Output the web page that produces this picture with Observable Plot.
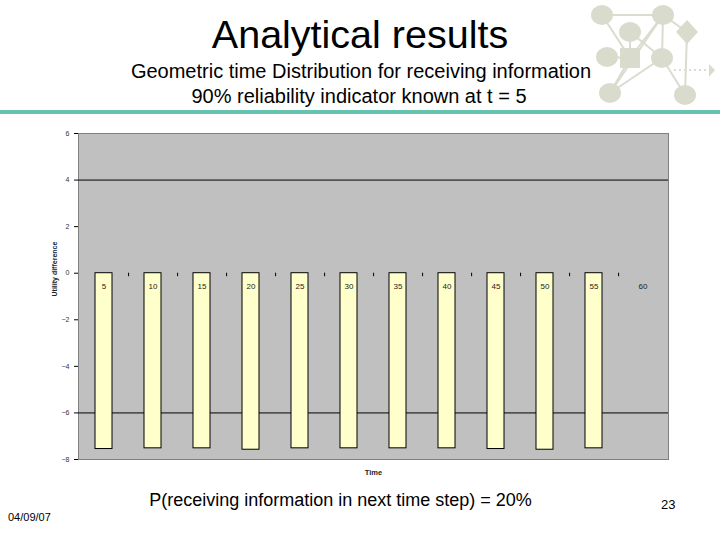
<!DOCTYPE html>
<html>
<head>
<meta charset="utf-8">
<script src="https://cdn.jsdelivr.net/npm/d3@7"></script>
<script src="https://cdn.jsdelivr.net/npm/@observablehq/plot@0.6"></script>
<style>
  html, body { margin: 0; padding: 0; background: #fff; }
  #page { position: relative; width: 720px; height: 540px; overflow: hidden; font-family: "Liberation Sans", Arial, sans-serif; }
  .abs { position: absolute; white-space: nowrap; }
  #title { left: 0; width: 720px; top: 12px; text-align: center; font-size: 39.5px; color: #000; }
  #sub1 { left: 0; width: 722px; top: 60px; text-align: center; font-size: 20px; }
  #sub2 { left: 0; width: 718px; top: 85px; text-align: center; font-size: 20px; }
  #rule { left: 0; top: 110px; width: 720px; height: 4px; background: #66c3b1; }
  #chart { left: 0; top: 115px; }
  #caption { left: 0; width: 681px; top: 490px; text-align: center; font-size: 18px; }
  #date { left: 8px; top: 511px; font-size: 11px; }
  #pagenum { left: 661px; top: 497px; font-size: 13px; }
  #logo { left: 585px; top: 0px; }
</style>
</head>
<body>
<div id="page">
  <svg id="logo" class="abs" width="135" height="110" viewBox="585 0 135 110">
    <g stroke="#dadccf" stroke-width="2" fill="none">
      <line x1="602" y1="15" x2="663" y2="15"/>
      <line x1="602" y1="15" x2="630" y2="58"/>
      <line x1="630" y1="32" x2="630" y2="58"/>
      <line x1="630" y1="32" x2="662" y2="58"/>
      <line x1="607" y1="57" x2="630" y2="58"/>
      <line x1="630" y1="58" x2="663" y2="15"/>
      <line x1="610" y1="93" x2="630" y2="58"/>
      <line x1="610" y1="93" x2="662" y2="58"/>
      <line x1="610" y1="93" x2="663" y2="15"/>
      <line x1="663" y1="15" x2="687" y2="32"/>
      <line x1="662" y1="58" x2="663" y2="15"/>
      <line x1="662" y1="58" x2="685" y2="95"/>
      <line x1="687" y1="32" x2="685" y2="95"/>
      <line x1="674" y1="70" x2="708" y2="70" stroke-dasharray="2,3"/>
    </g>
    <g fill="#d9dccd">
      <ellipse cx="602" cy="15" rx="11" ry="10"/>
      <ellipse cx="663" cy="15" rx="11" ry="10"/>
      <ellipse cx="630" cy="32" rx="11" ry="10"/>
      <ellipse cx="607" cy="57" rx="11" ry="10"/>
      <rect x="620" y="48" width="20" height="20"/>
      <ellipse cx="662" cy="58" rx="11" ry="10"/>
      <polygon points="687,20 698,32 687,44 676,32"/>
      <ellipse cx="610" cy="93" rx="11" ry="10"/>
      <ellipse cx="685" cy="95" rx="11" ry="10"/>
      <polygon points="709,64 715,70 709,77"/>
    </g>
  </svg>
  <div id="title" class="abs">Analytical results</div>
  <div id="sub1" class="abs">Geometric time Distribution for receiving information</div>
  <div id="sub2" class="abs">90% reliability indicator known at t = 5</div>
  <div id="rule" class="abs"></div>
  <div id="chart" class="abs"></div>
  <div id="caption" class="abs">P(receiving information in next time step) = 20%</div>
  <div id="date" class="abs">04/09/07</div>
  <div id="pagenum" class="abs">23</div>
</div>
<script>
const timeLabels = ["5", "10", "15", "20", "25", "30", "35", "40", "45", "50", "55", "60"];
const utilityDiff = [-7.55, -7.52, -7.52, -7.58, -7.52, -7.52, -7.52, -7.52, -7.55, -7.58, -7.52, 0];
const yTicks = [6, 4, 2, 0, -2, -4, -6, -8];
const gridValues = [4, -6];

const data = timeLabels.map((t, i) => ({time: t, value: utilityDiff[i]}));

const chart = Plot.plot({
  width: 720,
  height: 370,
  marginLeft: 78,
  marginRight: 52,
  marginTop: 18,
  marginBottom: 26,
  style: {fontFamily: "'Liberation Sans', Arial, sans-serif", background: "transparent"},
  x: {domain: timeLabels, paddingInner: 0.65, paddingOuter: 0.325, axis: null},
  y: {domain: [-8, 6], ticks: yTicks, label: null},
  marks: [
    Plot.frame({fill: "#c0c0c0", stroke: "#808080"}),
    Plot.ruleY(gridValues, {stroke: "#000", strokeWidth: 1}),
    Plot.barY(data.filter(d => d.value !== 0), {x: "time", y: "value", fill: "#ffffcc", stroke: "#000", strokeWidth: 1}),
    Plot.ruleX(timeLabels.slice(0, -1), {x: d => d, y1: 0, y2: -0.15, dx: 24.6, stroke: "#000"}),
    Plot.text(data, {x: "time", y: 0, text: "time", dy: 13, fontSize: 8, fill: "#222"}),
    Plot.axisY({ticks: yTicks, tickSize: 4, tickPadding: 5, fontSize: 7, fill: "#333", label: null}),
    Plot.text(["Utility difference"], {frameAnchor: "left", dx: -24, rotate: -90, fontSize: 7, fontWeight: "bold", fill: "#222"}),
    Plot.text(["Time"], {frameAnchor: "bottom", dy: 15, fontSize: 7.5, fontWeight: "bold", fill: "#222"})
  ]
});
document.getElementById("chart").appendChild(chart);
</script>
</body>
</html>
